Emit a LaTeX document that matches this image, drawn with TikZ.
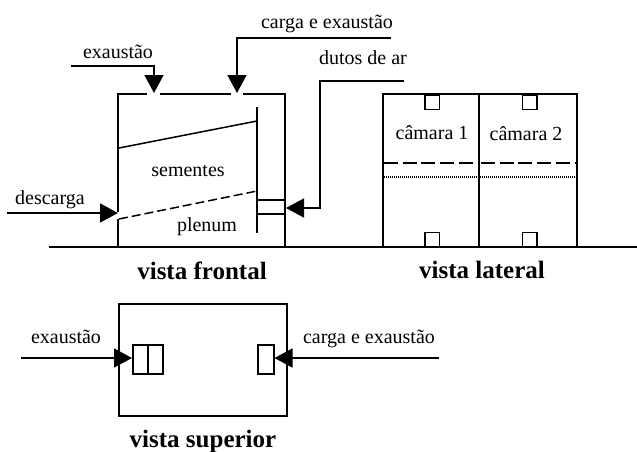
\documentclass[tikz,border=0pt]{standalone}
\usepackage{fontspec}
\setmainfont{Liberation Serif}
\usetikzlibrary{arrows.meta}
\tikzset{
  wall/.style={line width=1.5pt,line cap=butt},
  flow/.style={line width=1.5pt,-{Triangle[length=18pt,width=19pt]}},
  lbl/.style={font=\fontsize{20}{22}\selectfont,inner sep=0pt,anchor=base},
  ttl/.style={font=\fontsize{25}{27}\selectfont\bfseries,inner sep=0pt,anchor=base},
}
\begin{document}
\begin{tikzpicture}[x=1pt,y=-1pt]
\useasboundingbox (0,0) rectangle (637,451);
% ground
\coordinate (g1) at (49,247); \coordinate (g2) at (637,247);
\draw[wall] (g1) -- (g2);
% front view
\coordinate (fl1) at (118,247); \coordinate (fl2) at (118,219);
\coordinate (fl3) at (118,212); \coordinate (ftl) at (118,94);
\coordinate (ft1) at (147,94); \coordinate (ft2) at (160,94);
\coordinate (ft3) at (231,94); \coordinate (ft4) at (243,94);
\coordinate (ftr) at (285,94); \coordinate (fbr) at (285,247);
\draw[wall] (fl1) -- (fl2);
\draw[wall] (fl3) -- (ftl) -- (ft1);
\draw[wall] (ft2) -- (ft3);
\draw[wall] (ft4) -- (ftr) -- (fbr);
\coordinate (iw1) at (257,107); \coordinate (iw2) at (257,233);
\draw[wall] (iw1) -- (iw2);
\coordinate (s1) at (119,148); \coordinate (s2) at (257,121);
\draw[wall] (s1) -- (s2);
\coordinate (d1) at (119,219); \coordinate (d2) at (257,191);
\draw[wall,dash pattern=on 9pt off 4pt] (d1) -- (d2);
\coordinate (da) at (257,200); \coordinate (db) at (285,200);
\coordinate (dc) at (257,214); \coordinate (dd) at (285,214);
\draw[wall] (da) -- (db);
\draw[wall] (dc) -- (dd);
% arrows front
\coordinate (e0) at (71,66); \coordinate (e1) at (154,66); \coordinate (e2) at (154,93);
\draw[flow] (e0) -- (e1) -- (e2);
\coordinate (c0) at (391,38); \coordinate (c1) at (237,38); \coordinate (c2) at (237,93);
\draw[flow] (c0) -- (c1) -- (c2);
\coordinate (a0) at (404,81); \coordinate (a1) at (320,81); \coordinate (a2) at (320,208); \coordinate (a3) at (286,208);
\draw[flow] (a0) -- (a1) -- (a2) -- (a3);
\coordinate (b0) at (7,213); \coordinate (b1) at (118,213);
\draw[flow] (b0) -- (b1);
% side view
\coordinate (ltl) at (383,94); \coordinate (ltr) at (577,94);
\coordinate (lbl1) at (383,247); \coordinate (lbr) at (577,247);
\draw[wall] (lbl1) -- (ltl) -- (ltr) -- (lbr);
\coordinate (lm1) at (479,94); \coordinate (lm2) at (479,247);
\draw[wall] (lm1) -- (lm2);
\node[draw,wall,minimum width=14.5pt,minimum height=14pt,inner sep=0pt,anchor=north west] (q1) at (424,94.5) {};
\node[draw,wall,minimum width=14.5pt,minimum height=14pt,inner sep=0pt,anchor=north west] (q2) at (521.5,94.5) {};
\node[draw,wall,minimum width=14.5pt,minimum height=14pt,inner sep=0pt,anchor=south west] (q3) at (424,247) {};
\node[draw,wall,minimum width=14.5pt,minimum height=14pt,inner sep=0pt,anchor=south west] (q4) at (521.5,247) {};
\coordinate (h1) at (384,163); \coordinate (h2) at (477,163);
\coordinate (h3) at (481,163); \coordinate (h4) at (576,163);
\draw[wall,dash pattern=on 14pt off 4.7pt] (h1) -- (h2);
\draw[wall,dash pattern=on 14pt off 4.7pt] (h3) -- (h4);
\coordinate (k1) at (384,177); \coordinate (k2) at (577,177);
\draw[line width=1.2pt,dash pattern=on 1pt off 1pt] (k1) -- (k2);
% top view
\node[draw,wall,minimum width=168pt,minimum height=112pt,inner sep=0pt,anchor=north west] (sup) at (118,303) {};
\node[draw,wall,minimum width=15pt,minimum height=29pt,inner sep=0pt,anchor=north west] (r1) at (132,344) {};
\node[draw,wall,minimum width=15pt,minimum height=29pt,inner sep=0pt,anchor=north west] (r2) at (147,344) {};
\node[draw,wall,minimum width=16pt,minimum height=29pt,inner sep=0pt,anchor=north west] (r3) at (257,344) {};
\coordinate (t0) at (21,358); \coordinate (t1) at (439,358);
\draw[flow] (t0) -- (r1.west |- t0);
\draw[flow] (t1) -- (r3.east |- t1);
% labels
\node[lbl] (l1) at (118,58) {exaustão};
\node[lbl] (l2) at (327,28) {carga e exaustão};
\node[lbl] (l3) at (363,64) {dutos de ar};
\node[lbl] (l4) at (50,204) {descarga};
\node[lbl] (l5) at (188,176) {sementes};
\node[lbl] (l6) at (207,231) {plenum};
\node[lbl] (l7) at (432,139) {câmara 1};
\node[lbl] (l8) at (526,140) {câmara 2};
\node[lbl] (l9) at (66,343) {exaustão};
\node[lbl] (l10) at (369,343) {carga e exaustão};
\node[ttl] (m1) at (202,279) {vista frontal};
\node[ttl] (m2) at (482,278) {vista lateral};
\node[ttl] (m3) at (203,447) {vista superior};
\end{tikzpicture}
\end{document}
